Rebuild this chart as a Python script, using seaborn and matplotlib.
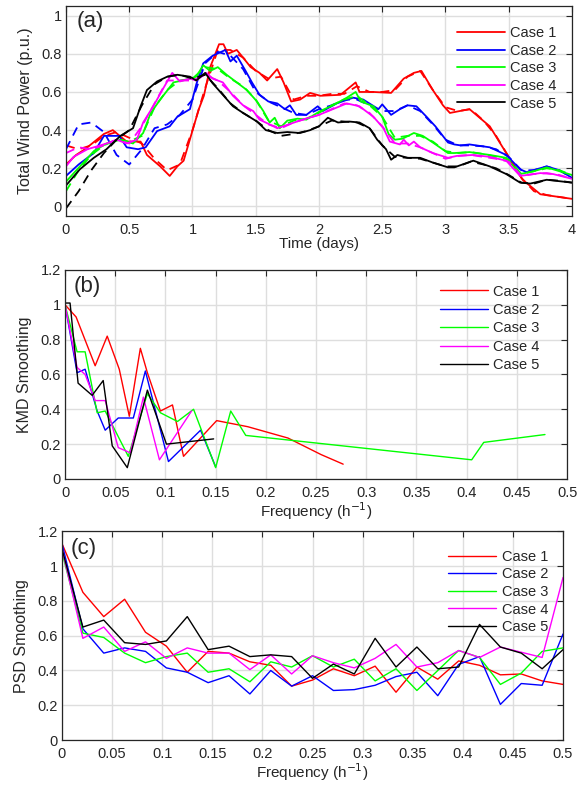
import numpy as np
import pandas as pd
import matplotlib
matplotlib.use('Agg')
import matplotlib.pyplot as plt
import seaborn as sns

cases = ['Case 1', 'Case 2', 'Case 3', 'Case 4', 'Case 5']
colors = ['#ff0000', '#0000ff', '#00ff00', '#ff00ff', '#000000']

# (a) total wind power, solid lines (time in days, power in p.u.)
t1 = [0, 0.08, 0.15, 0.3, 0.37, 0.48, 0.59, 0.64, 0.745, 0.82, 0.88, 0.93, 1.01, 1.05, 1.09, 1.14,
      1.21, 1.245, 1.28, 1.35, 1.40, 1.46, 1.53, 1.59, 1.67, 1.72, 1.78, 1.85, 1.93, 2.01, 2.17, 2.29,
      2.32, 2.43, 2.57, 2.67, 2.75, 2.81, 2.90, 2.98, 3.035, 3.19, 3.35, 3.48, 3.61, 3.75, 4.0]
p1 = [0.22, 0.27, 0.30, 0.38, 0.40, 0.34, 0.34, 0.27, 0.21, 0.16, 0.21, 0.24, 0.42, 0.51, 0.58, 0.73,
      0.85, 0.85, 0.80, 0.82, 0.78, 0.73, 0.70, 0.66, 0.72, 0.65, 0.55, 0.56, 0.595, 0.58, 0.585, 0.65,
      0.60, 0.60, 0.595, 0.67, 0.70, 0.71, 0.61, 0.53, 0.49, 0.51, 0.42, 0.28, 0.14, 0.064, 0.04]
t2 = [0, 0.1, 0.22, 0.3, 0.42, 0.48, 0.57, 0.63, 0.72, 0.82, 0.88, 0.98, 1.03, 1.085, 1.16, 1.26, 1.30,
      1.35, 1.42, 1.47, 1.53, 1.60, 1.67, 1.73, 1.77, 1.82, 1.90, 1.99, 2.03, 2.14, 2.27, 2.35, 2.47,
      2.50, 2.57, 2.64, 2.70, 2.77, 2.85, 2.92, 3.02, 3.07, 3.12, 3.19, 3.35, 3.48, 3.59, 3.64, 3.80,
      3.90, 4.0]
p2 = [0.16, 0.22, 0.28, 0.37, 0.37, 0.31, 0.30, 0.31, 0.395, 0.42, 0.47, 0.51, 0.64, 0.75, 0.79, 0.82,
      0.76, 0.79, 0.71, 0.65, 0.585, 0.55, 0.54, 0.51, 0.53, 0.48, 0.48, 0.525, 0.50, 0.54, 0.57, 0.56,
      0.51, 0.535, 0.48, 0.51, 0.53, 0.525, 0.47, 0.42, 0.335, 0.325, 0.32, 0.325, 0.31, 0.27, 0.195,
      0.18, 0.21, 0.19, 0.15]
t3 = [0, 0.11, 0.22, 0.32, 0.43, 0.53, 0.61, 0.67, 0.745, 0.85, 0.955, 1.03, 1.085, 1.14, 1.20, 1.27,
      1.34, 1.43, 1.51, 1.56, 1.61, 1.65, 1.69, 1.75, 1.83, 1.90, 2.01, 2.11, 2.22, 2.29, 2.33, 2.43,
      2.50, 2.55, 2.60, 2.66, 2.75, 2.82, 2.90, 3.02, 3.07, 3.19, 3.35, 3.48, 3.59, 3.70, 3.80, 4.0]
p3 = [0.13, 0.21, 0.29, 0.33, 0.35, 0.33, 0.385, 0.49, 0.56, 0.65, 0.665, 0.68, 0.74, 0.71, 0.73, 0.69,
      0.655, 0.61, 0.55, 0.50, 0.44, 0.465, 0.41, 0.45, 0.46, 0.455, 0.50, 0.53, 0.57, 0.60, 0.55, 0.525,
      0.47, 0.38, 0.35, 0.355, 0.385, 0.37, 0.335, 0.28, 0.28, 0.285, 0.27, 0.255, 0.17, 0.185, 0.205,
      0.165]
t4 = [0, 0.06, 0.17, 0.32, 0.40, 0.48, 0.56, 0.61, 0.69, 0.77, 0.84, 0.90, 0.98, 1.03, 1.11, 1.16,
      1.24, 1.32, 1.40, 1.48, 1.53, 1.61, 1.67, 1.76, 1.87, 2.0, 2.11, 2.22, 2.32, 2.43, 2.51, 2.56,
      2.64, 2.67, 2.71, 2.75, 2.80, 2.90, 3.02, 3.09, 3.22, 3.35, 3.48, 3.59, 3.75, 3.85, 4.0]
p4 = [0.21, 0.26, 0.30, 0.33, 0.35, 0.33, 0.35, 0.44, 0.525, 0.62, 0.70, 0.655, 0.67, 0.66, 0.70, 0.67,
      0.65, 0.58, 0.53, 0.50, 0.455, 0.43, 0.41, 0.43, 0.455, 0.48, 0.51, 0.54, 0.525, 0.47, 0.41, 0.34,
      0.325, 0.35, 0.32, 0.34, 0.31, 0.28, 0.255, 0.265, 0.27, 0.26, 0.24, 0.16, 0.175, 0.17, 0.145]
t5 = [0, 0.11, 0.22, 0.32, 0.43, 0.53, 0.59, 0.64, 0.72, 0.80, 0.88, 0.98, 1.03, 1.10, 1.16, 1.24,
      1.32, 1.40, 1.51, 1.58, 1.67, 1.75, 1.85, 1.93, 2.0, 2.07, 2.15, 2.24, 2.32, 2.40, 2.46, 2.53,
      2.57, 2.62, 2.70, 2.80, 2.90, 3.02, 3.07, 3.22, 3.35, 3.48, 3.59, 3.67, 3.80, 4.0]
p5 = [0.11, 0.195, 0.255, 0.30, 0.37, 0.41, 0.525, 0.61, 0.655, 0.68, 0.69, 0.68, 0.66, 0.70, 0.645,
      0.585, 0.525, 0.49, 0.445, 0.40, 0.385, 0.39, 0.385, 0.40, 0.42, 0.465, 0.44, 0.445, 0.44, 0.41,
      0.35, 0.30, 0.245, 0.27, 0.255, 0.255, 0.23, 0.205, 0.205, 0.24, 0.21, 0.17, 0.125, 0.12, 0.14,
      0.125]

# (a) dashed lines, sampled every 0.1 day
t_grid = np.linspace(0, 4, 41)
d1 = [0.32, 0.30, 0.32, 0.37, 0.39, 0.36, 0.33, 0.25, 0.19, 0.22, 0.40, 0.62, 0.82, 0.82, 0.78, 0.71,
      0.67, 0.68, 0.56, 0.58, 0.58, 0.59, 0.59, 0.63, 0.60, 0.60, 0.61, 0.68, 0.71, 0.61, 0.52, 0.50,
      0.51, 0.45, 0.37, 0.26, 0.15, 0.08, 0.06, 0.05, 0.04]
d2 = [0.30, 0.43, 0.44, 0.39, 0.27, 0.22, 0.30, 0.41, 0.43, 0.48, 0.56, 0.75, 0.81, 0.79, 0.72, 0.60,
      0.55, 0.52, 0.49, 0.48, 0.51, 0.53, 0.56, 0.56, 0.53, 0.50, 0.50, 0.53, 0.50, 0.43, 0.35, 0.32,
      0.32, 0.315, 0.30, 0.26, 0.19, 0.19, 0.21, 0.19, 0.15]
d3 = [0.08, 0.19, 0.27, 0.32, 0.35, 0.34, 0.37, 0.52, 0.61, 0.66, 0.67, 0.73, 0.72, 0.67, 0.63, 0.56,
      0.45, 0.42, 0.45, 0.46, 0.49, 0.53, 0.56, 0.58, 0.53, 0.47, 0.36, 0.37, 0.37, 0.34, 0.29, 0.28,
      0.285, 0.275, 0.26, 0.245, 0.17, 0.185, 0.20, 0.19, 0.165]
d4 = [0.28, 0.31, 0.30, 0.32, 0.35, 0.33, 0.42, 0.54, 0.66, 0.66, 0.66, 0.69, 0.66, 0.60, 0.53, 0.48,
      0.43, 0.41, 0.44, 0.46, 0.48, 0.51, 0.54, 0.53, 0.49, 0.42, 0.33, 0.33, 0.31, 0.28, 0.25, 0.265,
      0.27, 0.26, 0.25, 0.235, 0.16, 0.17, 0.175, 0.165, 0.145]
d5 = [-0.01, 0.08, 0.19, 0.28, 0.35, 0.40, 0.53, 0.64, 0.68, 0.69, 0.67, 0.69, 0.62, 0.54, 0.49, 0.45,
      0.40, 0.37, 0.38, 0.395, 0.42, 0.45, 0.445, 0.44, 0.41, 0.32, 0.26, 0.255, 0.25, 0.23, 0.21, 0.21,
      0.235, 0.22, 0.20, 0.165, 0.125, 0.12, 0.14, 0.135, 0.125]

# (b) KMD smoothing vs frequency (1/h)
kf1 = [0, 0.011, 0.03, 0.042, 0.054, 0.064, 0.075, 0.082, 0.095, 0.107, 0.118, 0.151, 0.182, 0.222, 0.255, 0.277]
kv1 = [1.0, 0.93, 0.65, 0.82, 0.63, 0.36, 0.75, 0.61, 0.39, 0.425, 0.13, 0.335, 0.30, 0.235, 0.14, 0.085]
kf2 = [0, 0.012, 0.02, 0.032, 0.04, 0.053, 0.068, 0.08, 0.103, 0.135, 0.15]
kv2 = [1.0, 0.61, 0.63, 0.39, 0.28, 0.35, 0.35, 0.62, 0.10, 0.28, 0.07]
kf3 = [0, 0.012, 0.02, 0.032, 0.04, 0.063, 0.082, 0.095, 0.112, 0.128, 0.15, 0.165, 0.18, 0.405, 0.417, 0.478]
kv3 = [1.0, 0.73, 0.73, 0.38, 0.39, 0.13, 0.49, 0.38, 0.33, 0.40, 0.065, 0.39, 0.25, 0.11, 0.21, 0.255]
kf4 = [0, 0.012, 0.02, 0.03, 0.04, 0.053, 0.065, 0.078, 0.094, 0.126]
kv4 = [1.0, 0.64, 0.60, 0.45, 0.45, 0.18, 0.15, 0.47, 0.11, 0.39]
kf5 = [0, 0.005, 0.013, 0.027, 0.038, 0.047, 0.062, 0.082, 0.101, 0.148]
kv5 = [1.01, 1.01, 0.55, 0.48, 0.565, 0.19, 0.065, 0.51, 0.20, 0.23]

# (c) PSD smoothing, frequencies k/48
psd_f = np.linspace(0, 0.5, 25)
s1 = [1.13, 0.85, 0.71, 0.81, 0.62, 0.54, 0.39, 0.51, 0.50, 0.45, 0.43, 0.31, 0.345, 0.41, 0.37, 0.425,
      0.275, 0.42, 0.35, 0.455, 0.43, 0.375, 0.38, 0.34, 0.32]
s2 = [1.13, 0.64, 0.50, 0.53, 0.51, 0.415, 0.39, 0.33, 0.37, 0.265, 0.40, 0.31, 0.37, 0.285, 0.29, 0.315,
      0.365, 0.39, 0.255, 0.435, 0.48, 0.205, 0.325, 0.315, 0.61]
s3 = [1.08, 0.615, 0.59, 0.50, 0.445, 0.48, 0.50, 0.39, 0.41, 0.335, 0.45, 0.42, 0.485, 0.42, 0.465, 0.34,
      0.41, 0.285, 0.40, 0.515, 0.475, 0.32, 0.385, 0.51, 0.53]
s4 = [1.10, 0.585, 0.65, 0.51, 0.565, 0.47, 0.53, 0.50, 0.50, 0.405, 0.49, 0.38, 0.485, 0.445, 0.415, 0.47,
      0.55, 0.42, 0.445, 0.515, 0.475, 0.535, 0.505, 0.475, 0.935]
s5 = [1.10, 0.65, 0.69, 0.56, 0.55, 0.57, 0.71, 0.52, 0.54, 0.48, 0.49, 0.48, 0.355, 0.437, 0.38, 0.585,
      0.42, 0.535, 0.41, 0.42, 0.665, 0.535, 0.50, 0.41, 0.52]

sns.set_theme(style='whitegrid')
plt.rcParams['font.family'] = ['Liberation Sans', 'DejaVu Sans']
plt.rcParams['axes.edgecolor'] = '#262626'
plt.rcParams['grid.color'] = '#dedede'


def style_axes(ax, xticks, xlabels, yticks, ylabels, xlim, ylim):
    ax.set_xlim(xlim)
    ax.set_ylim(ylim)
    ax.set_xticks(xticks)
    ax.set_xticklabels(xlabels)
    ax.set_yticks(yticks)
    ax.set_yticklabels(ylabels)
    ax.tick_params(direction='in', top=True, right=True, length=4, width=0.8,
                   labelsize=10.5, pad=3, color='#262626')
    ax.tick_params(axis='x', pad=5)
    ax.grid(True, linewidth=1.0)
    for s in ax.spines.values():
        s.set_linewidth(0.9)
        s.set_color('#262626')


fig = plt.figure(figsize=(5.86, 7.87), dpi=100)
ax1 = fig.add_axes([0.1126, 0.7255, 0.8635, 0.2668])
ax2 = fig.add_axes([0.1110, 0.3914, 0.8567, 0.2656])
ax3 = fig.add_axes([0.1058, 0.0597, 0.8550, 0.2650])

# panel (a)
solid_t = [t1, t2, t3, t4, t5]
solid_p = [p1, p2, p3, p4, p5]
dashed_p = [d1, d2, d3, d4, d5]
for name, c, tt, pp, dd in zip(cases, colors, solid_t, solid_p, dashed_p):
    sns.lineplot(x=t_grid, y=dd, color=c, linewidth=1.3, ax=ax1, estimator=None, sort=False)
    ax1.lines[-1].set_dashes([5, 3.5])
    sns.lineplot(x=tt, y=pp, color=c, linewidth=1.3, ax=ax1, label=name,
                 estimator=None, sort=False)
style_axes(ax1, np.arange(0, 4.01, 0.5), ['0', '0.5', '1', '1.5', '2', '2.5', '3', '3.5', '4'],
           np.arange(0, 1.01, 0.2), ['0', '0.2', '0.4', '0.6', '0.8', '1'], (0, 4), (-0.05, 1.05))
ax1.set_xlabel('Time (days)', fontsize=11, labelpad=0)
ax1.set_ylabel('Total Wind Power (p.u.)', fontsize=11.5, labelpad=6)
ax1.text(0.022, 0.975, '(a)', transform=ax1.transAxes, fontsize=16, va='top', ha='left')
ax1.legend(loc='upper left', bbox_to_anchor=(0.773, 0.905), frameon=False, fontsize=10.5,
           handlelength=3.3, handletextpad=0.35, labelspacing=0.25, borderpad=0, borderaxespad=0)

freq_ticks = np.arange(0, 0.501, 0.05)
freq_labels = ['0', '0.05', '0.1', '0.15', '0.2', '0.25', '0.3', '0.35', '0.4', '0.45', '0.5']
y12 = np.arange(0, 1.21, 0.2)
y12_labels = ['0', '0.2', '0.4', '0.6', '0.8', '1', '1.2']

# panel (b)
kmd_f = [kf1, kf2, kf3, kf4, kf5]
kmd_v = [kv1, kv2, kv3, kv4, kv5]
for name, c, ff, vv in zip(cases, colors, kmd_f, kmd_v):
    sns.lineplot(x=ff, y=vv, color=c, linewidth=1.0, ax=ax2, label=name, estimator=None, sort=False)
style_axes(ax2, freq_ticks, freq_labels, y12, y12_labels, (0, 0.5), (0, 1.2))
ax2.set_xlabel('Frequency (h$^{-1}$)', fontsize=11, labelpad=0)
ax2.set_ylabel('KMD Smoothing', fontsize=11.5, labelpad=6)
ax2.text(0.018, 0.97, '(b)', transform=ax2.transAxes, fontsize=16, va='top', ha='left')
ax2.legend(loc='upper left', bbox_to_anchor=(0.747, 0.93), frameon=False, fontsize=10.5,
           handlelength=3.3, handletextpad=0.35, labelspacing=0.3, borderpad=0, borderaxespad=0)

# panel (c)
psd_v = [s1, s2, s3, s4, s5]
for name, c, vv in zip(cases, colors, psd_v):
    sns.lineplot(x=psd_f, y=vv, color=c, linewidth=1.0, ax=ax3, label=name, estimator=None, sort=False)
style_axes(ax3, freq_ticks, freq_labels, y12, y12_labels, (0, 0.5), (0, 1.2))
ax3.set_xlabel('Frequency (h$^{-1}$)', fontsize=11, labelpad=0)
ax3.set_ylabel('PSD Smoothing', fontsize=11.5, labelpad=6)
ax3.text(0.018, 0.97, '(c)', transform=ax3.transAxes, fontsize=16, va='top', ha='left')
ax3.legend(loc='upper left', bbox_to_anchor=(0.771, 0.913), frameon=False, fontsize=10.5,
           handlelength=3.3, handletextpad=0.35, labelspacing=0.25, borderpad=0, borderaxespad=0)

plt.savefig('out.png', dpi=100)
